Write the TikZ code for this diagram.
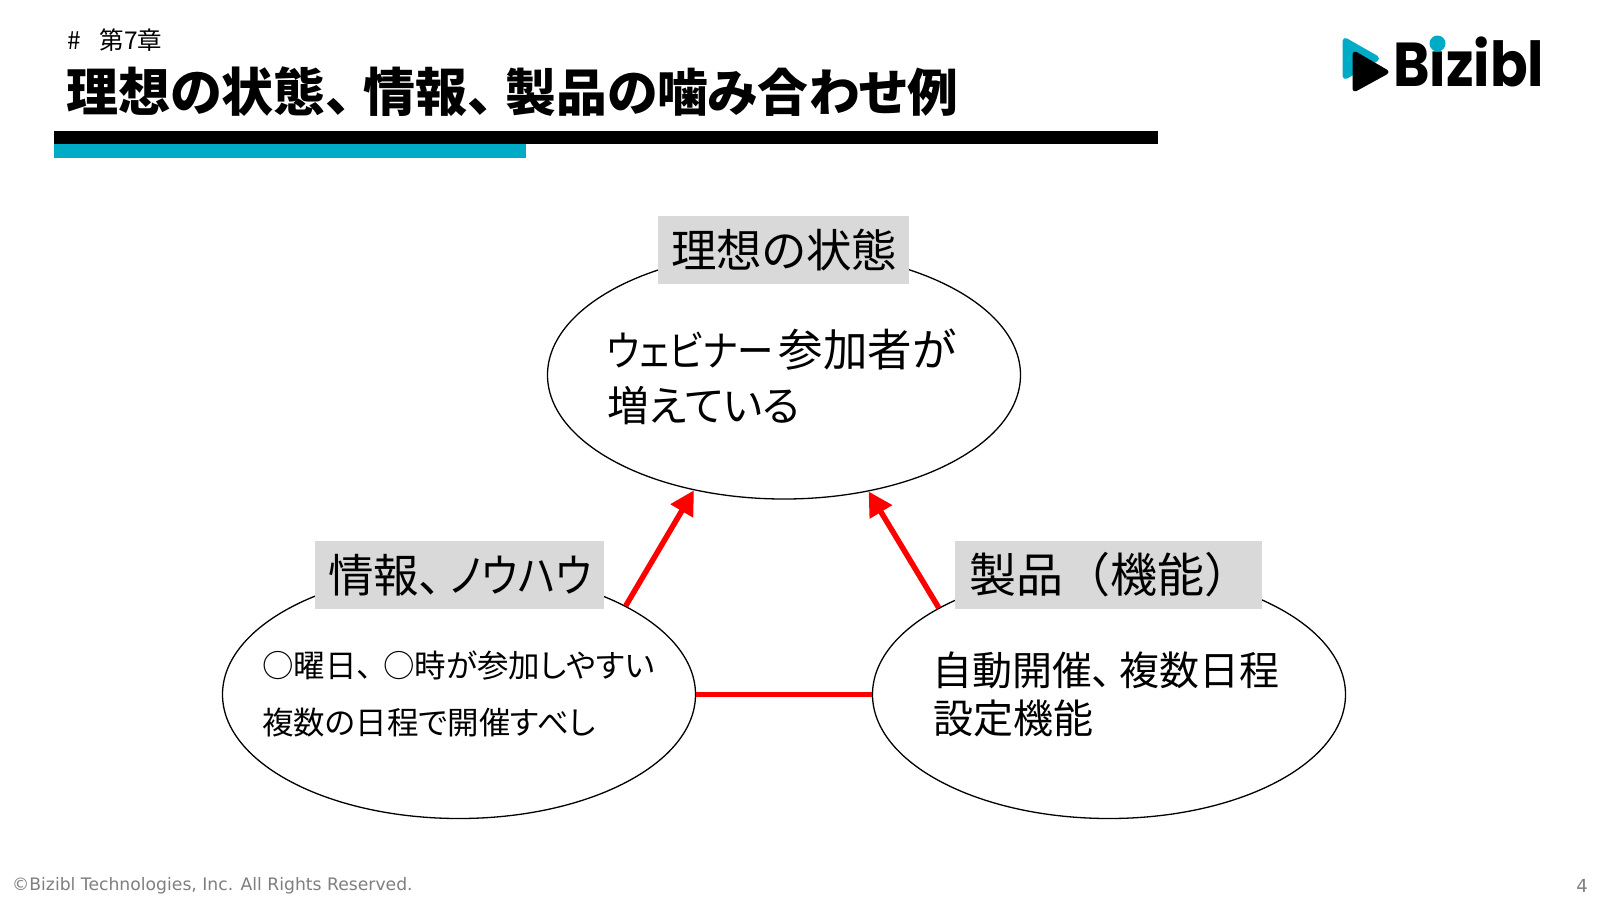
\documentclass[tikz,border=0pt]{standalone}
\usepackage{fontspec}
\usetikzlibrary{shapes.geometric,arrows.meta}
\setmainfont{Noto Sans CJK JP}[RawFeature=+palt]
\newfontfamily\fullfont{Noto Sans CJK JP}
\newfontfamily\kanafont{Noto Sans CJK JP}[RawFeature=+palt,FakeStretch=0.87]
\newfontfamily\footfont{DejaVu Sans}
\newfontfamily\logofont{Poppins}
\newcommand{\cgap}[1]{\hspace{#1pt}}
\definecolor{teal}{HTML}{00ABC6}
\definecolor{lab}{HTML}{D9D9D9}
\definecolor{foot}{HTML}{7F7F7F}
\tikzset{
  x=1pt,y=-1pt,
  bubble/.style={draw=black,line width=1.3pt,shape=ellipse,inner sep=0pt,minimum width=473pt,minimum height=248pt},
  labbox/.style={fill=lab,inner sep=0pt,minimum height=68pt},
  labtext/.style={inner sep=0pt,anchor=west,font=\fontsize{45.5}{45.5}\selectfont},
  bodytext/.style={inner sep=0pt,anchor=west,font=\fontsize{40}{40}\selectfont},
  bigtext/.style={inner sep=0pt,anchor=west,font=\fontsize{41.8}{42}\selectfont},
  smalltext/.style={inner sep=0pt,anchor=west,font=\fontsize{31.5}{32}\selectfont},
  link/.style={draw=red,line width=5.5pt},
  linkarrow/.style={link,-{Triangle[length=24pt,width=25pt]}},
}
\begin{document}
\begin{tikzpicture}
\useasboundingbox (0,0) rectangle (1600,900);
\fill[white] (0,0) rectangle (1600,900);
% header
\node[inner sep=0pt,anchor=west,font=\fontsize{24.5}{25}\selectfont] (chap) at (67,40) {\#\hspace{19pt}第7章};
\node[inner sep=0pt,anchor=west,font=\fontsize{52}{52}\selectfont\bfseries] (title) at (66,92) {理想の状態、\cgap{12}情報、\cgap{12}{\fontsize{50.8}{51}\selectfont 製品の噛み合わせ例}};
\fill[black] (54,131) rectangle (1158,144);
\fill[teal] (54,144) rectangle (526,158);
% logo
\filldraw[teal,line width=6pt,line join=round] (1345.5,41) -- (1376,58.5) -- (1345.5,76) -- cycle;
\filldraw[black,line width=5pt,line join=round] (1355,54) -- (1386,72) -- (1355,89) -- cycle;
\node[inner sep=0pt,anchor=base west,xscale=0.895,font=\logofont\bfseries\fontsize{62}{62}\selectfont] (logo) at (1393,86) {Bizibl};
\fill[teal] (1437.5,43.5) circle (8);
% ellipses
\node[bubble] (ideal) at (784,375) {};
\node[bubble] (info) at (459,694.5) {};
\node[bubble] (prod) at (1109,694.5) {};
% label boxes
\node[labbox,minimum width=251pt] (idealbox) at (783.5,250) {};
\node[labbox,minimum width=289pt] (infobox) at (459.5,575) {};
\node[labbox,minimum width=307pt] (prodbox) at (1108.5,575) {};
\node[labtext] (idealtitle) at (671,250) {理想の状態};
\node[labtext] (infotitle) at (328,575) {情報、\cgap{9}{\kanafont ノウハウ}};
\node[labtext,font=\fontsize{47}{47}\selectfont] (prodtitle) at (969,575) {製品{\fullfont （}機能{\fullfont ）}};
% body
\node[bigtext] (i1) at (607,350) {{\kanafont ウェビナー}\cgap{5}{\fontsize{44.5}{45}\selectfont 参加者が}};
\node[bigtext] (i2) at (607,406) {増えている};
\node[smalltext] (n1) at (262,666) {○曜日、\cgap{11}○時が参加しやすい};
\node[smalltext] (n2) at (262,723) {複数の日程で開催すべし};
\node[bodytext] (p1) at (932,670) {自動開催、\cgap{7}複数日程};
\node[bodytext] (p2) at (933,718) {設定機能};
% connectors
\draw[linkarrow] (info.28) -- (ideal.232.5);
\draw[linkarrow] (prod.153.7) -- (ideal.306.7);
\draw[link] (info.east) -- (prod.west);
% footer
\node[inner sep=0pt,anchor=west,text=foot,font=\footfont\fontsize{17.2}{18}\selectfont] (copy) at (12,886) {©Bizibl Technologies, Inc. All Rights Reserved.};
\node[inner sep=0pt,anchor=east,text=foot,font=\footfont\fontsize{18}{18}\selectfont] (page) at (1588,886) {4};
\end{tikzpicture}
\end{document}
